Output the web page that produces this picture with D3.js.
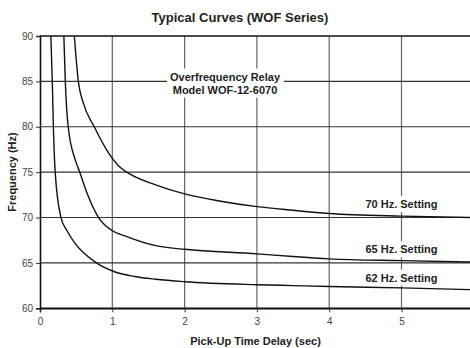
<!DOCTYPE html>
<html>
<head>
<meta charset="utf-8">
<script src="https://cdn.jsdelivr.net/npm/d3@7"></script>
<style>
  html, body { margin: 0; padding: 0; background: #fff; }
  svg { display: block; font-family: "Liberation Sans", Arial, Helvetica, sans-serif; }
</style>
</head>
<body>
<svg id="chart" width="470" height="348"></svg>
<script>
// Pick-up time delay (sec) vs. frequency (Hz) for each relay setting
const curve62 = [[0.15,90],[0.17,85],[0.185,80],[0.21,75],[0.29,70],[0.37,68.6],[0.48,67.2],[0.78,65],[1.04,64.0],[1.31,63.5],[1.6,63.2],[2.0,62.93],[3.0,62.6],[3.5,62.5],[4.0,62.4],[5.0,62.25],[6.0,62.05]];
const curve65 = [[0.33,90],[0.35,85],[0.39,80],[0.49,76.3],[0.55,75],[0.65,72.7],[0.81,70],[0.99,68.6],[1.2,67.9],[1.6,66.9],[2.0,66.5],[3.0,66.0],[3.5,65.7],[4.0,65.45],[5.0,65.25],[6.0,65.1]];
const curve70 = [[0.475,90],[0.53,85],[0.6,82.6],[0.75,80],[0.95,77.1],[1.1,75.6],[1.2,75.0],[1.6,73.6],[2.0,72.6],[2.5,71.8],[3.0,71.2],[3.5,70.8],[4.0,70.45],[5.0,70.15],[6.0,70.0]];
const xTicks = [0, 1, 2, 3, 4, 5, 6];
const yTicks = [60, 65, 70, 75, 80, 85, 90];
const settingLabels = ["70 Hz. Setting", "65 Hz. Setting", "62 Hz. Setting"];
const settingLabelPos = [[5, 71.1], [5, 66.1], [5, 63.0]];
const noteLines = ["Overfrequency Relay", "Model WOF-12-6070"];

const svg = d3.select("#chart");
const x = d3.scaleLinear().domain([0, 6]).range([40, 473.8]);
const y = d3.scaleLinear().domain([60, 90]).range([308.3, 36]);

// grid
svg.append("g").selectAll("line").data(xTicks.slice(1)).join("line")
  .attr("x1", d => x(d)).attr("x2", d => x(d))
  .attr("y1", y(90)).attr("y2", y(60))
  .attr("stroke", "#666").attr("stroke-width", 1.2);
svg.append("g").selectAll("line").data(yTicks).join("line")
  .attr("x1", x(0)).attr("x2", 470)
  .attr("y1", d => y(d)).attr("y2", d => y(d))
  .attr("stroke", d => (d === 90 || d === 60) ? "#111" : "#333")
  .attr("stroke-width", d => (d === 90 || d === 60) ? 1.6 : 1.1);

// axes
const xAxis = svg.append("g").attr("transform", `translate(0,${y(60)})`)
  .call(d3.axisBottom(x).tickValues(xTicks).tickFormat(d3.format("d")).tickSize(4).tickPadding(6));
const yAxis = svg.append("g").attr("transform", `translate(${x(0)},0)`)
  .call(d3.axisLeft(y).tickValues(yTicks).tickSize(4).tickPadding(3));
[xAxis, yAxis].forEach(a => {
  a.select(".domain").attr("stroke", "#111").attr("stroke-width", 1.6);
  a.selectAll(".tick line").attr("stroke", "#333");
  a.selectAll("text").attr("fill", "#444").attr("font-size", 10)
    .attr("font-family", "Liberation Sans, Arial, sans-serif");
});

// curves
svg.append("clipPath").attr("id", "plot").append("rect")
  .attr("x", x(0)).attr("y", y(90)).attr("width", 470 - x(0)).attr("height", y(60) - y(90));
const line = d3.line().x(d => x(d[0])).y(d => y(d[1])).curve(d3.curveMonotoneX);
svg.append("g").attr("clip-path", "url(#plot)")
  .selectAll("path").data([curve62, curve65, curve70]).join("path")
  .attr("d", line).attr("fill", "none").attr("stroke", "#111").attr("stroke-width", 1.4);

// labels with white backing
function boxedText(lines, cx, baseY, lh) {
  const g = svg.append("g");
  const t = g.append("text").attr("text-anchor", "middle").attr("font-weight", "bold")
    .attr("font-size", 11).attr("fill", "#222");
  lines.forEach((s, i) => t.append("tspan").attr("x", cx).attr("y", baseY + i * lh).text(s));
  const b = t.node().getBBox();
  g.insert("rect", "text").attr("x", b.x - 3).attr("y", b.y - 2)
    .attr("width", b.width + 6).attr("height", b.height + 4).attr("fill", "#fff");
}
boxedText(noteLines, 225, 80.5, 13);
settingLabels.forEach((s, i) => boxedText([s], x(settingLabelPos[i][0]), y(settingLabelPos[i][1]) + 0.5, 13));

// titles
svg.append("text").attr("x", 240).attr("y", 21.5).attr("text-anchor", "middle")
  .attr("font-weight", "bold").attr("font-size", 13).attr("fill", "#222").text("Typical Curves (WOF Series)");
svg.append("text").attr("x", 255.5).attr("y", 344.5).attr("text-anchor", "middle")
  .attr("font-weight", "bold").attr("font-size", 11).attr("fill", "#222").text("Pick-Up Time Delay (sec)");
svg.append("text").attr("transform", `translate(16,172) rotate(-90)`).attr("text-anchor", "middle")
  .attr("font-weight", "bold").attr("font-size", 11).attr("fill", "#222").text("Frequency (Hz)");
</script>
</body>
</html>
